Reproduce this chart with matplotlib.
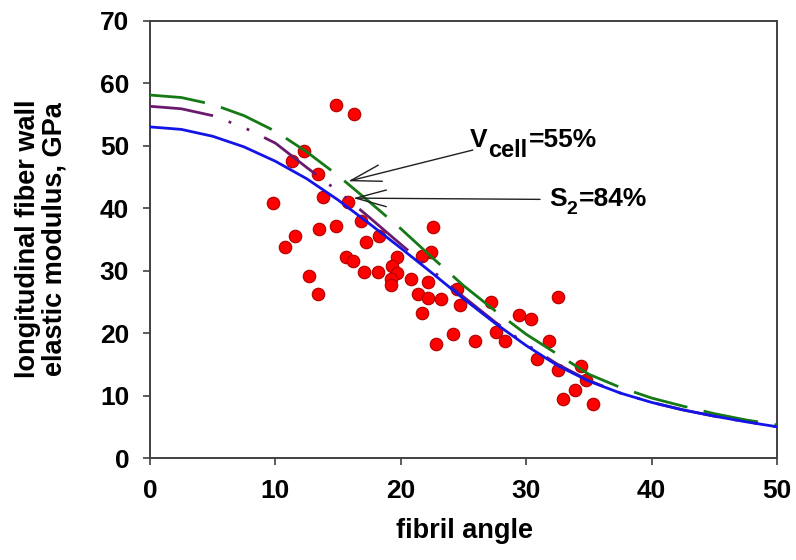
import matplotlib
matplotlib.use("Agg")
import matplotlib.pyplot as plt

plt.rcParams['font.family'] = ['Liberation Sans', 'DejaVu Sans']
plt.rcParams['lines.scale_dashes'] = False

# ---- data ----
angle_curve = [0, 2.5, 5, 7.5, 10, 12.5, 15, 17.5, 20, 22.5, 25, 27.5, 30,
               32.5, 35, 37.5, 40, 42.5, 45, 47.5, 50]
curve_solid = [53.0, 52.6, 51.5, 49.8, 47.5, 44.7, 41.3, 37.5, 33.6, 29.6, 25.5,
               21.6, 18.0, 14.8, 12.3, 10.4, 8.9, 7.7, 6.7, 5.8, 5.0]
curve_dashdot = [56.3, 55.9, 54.8, 52.9, 50.4, 46.5, 42.7, 38.5, 34.2, 30.0, 25.8,
                 21.8, 18.2, 15.0, 12.4, 10.4, 8.9, 7.7, 6.7, 5.8, 5.0]
curve_dashed = [58.1, 57.7, 56.6, 54.8, 52.3, 49.0, 45.2, 41.0, 36.7, 32.1, 27.6,
                23.6, 19.8, 16.6, 13.4, 11.3, 9.6, 8.3, 7.1, 6.1, 5.3]

meas_angle = [14.8, 16.3, 12.3, 11.3, 13.4, 13.8, 9.8, 15.8, 13.5, 14.8, 16.8,
              11.6, 10.8, 17.2, 18.3, 15.6, 16.2, 12.7, 17.1, 18.2, 13.4,
              19.7, 19.3, 19.7, 19.2, 19.2,
              22.6, 22.4, 21.7, 20.8, 22.2, 21.4, 22.2, 23.2, 24.5, 24.7, 21.7,
              27.2, 29.4, 30.4, 24.2, 25.9, 27.6, 28.3, 22.8, 30.9,
              32.5, 31.8, 32.5, 34.4, 34.8, 33.9, 32.9, 35.3]
meas_modulus = [56.5, 55.0, 49.2, 47.6, 45.4, 41.7, 40.8, 40.9, 36.6, 37.1, 38.0,
                35.6, 33.8, 34.6, 35.5, 32.2, 31.5, 29.2, 29.8, 29.8, 26.2,
                32.1, 30.8, 29.6, 28.6, 27.7,
                37.0, 33.0, 32.3, 28.6, 28.2, 26.2, 25.6, 25.5, 27.0, 24.5, 23.2,
                24.9, 22.9, 22.2, 19.9, 18.8, 20.1, 18.7, 18.2, 15.9,
                25.7, 18.8, 14.1, 14.8, 12.5, 10.9, 9.4, 8.6]

x_ticks = [0, 10, 20, 30, 40, 50]
y_ticks = [0, 10, 20, 30, 40, 50, 60, 70]

# ---- figure ----
fig = plt.figure(figsize=(7.96, 5.60), dpi=100)
ax = fig.add_axes([150/796, 1 - 458/560, 627/796, (458 - 20.7)/560])

ax.plot(meas_angle, meas_modulus, 'o', ms=9, mfc='#ff0000', mec='#b00000',
        mew=0.8, zorder=2, clip_on=False)

ax.plot(angle_curve, curve_dashed, color='#157a15', lw=2.0,
        ls=(0, (40, 12)), zorder=3)
ax.plot(angle_curve, curve_dashdot, color='#6a1a6e', lw=2.0,
        ls=(0, (46, 12, 2, 12, 2, 12)), zorder=3)
ax.plot(angle_curve, curve_solid, color='#1414e6', lw=2.0, zorder=4)

ax.set_xlim(0, 50)
ax.set_ylim(0, 70)
ax.set_xticks(x_ticks)
ax.set_yticks(y_ticks)
ax.tick_params(direction='out', length=5, width=1.2, color='#404040',
               labelsize=19, pad=10)
for lab in ax.get_xticklabels() + ax.get_yticklabels():
    lab.set_fontweight('bold')
for sp in ax.spines.values():
    sp.set_color('#404040')
    sp.set_linewidth(1.4)

fig.text(465/796, 1 - 538/560, 'fibril angle', ha='center', va='baseline',
         fontsize=19.5, fontweight='bold')
fig.text(41.5/796, 1 - 239/560, 'longitudinal fiber wall\nelastic modulus, GPa',
         rotation=90, ha='center', va='center', fontsize=19.5,
         fontweight='bold', linespacing=1.05, multialignment='center')

# annotations
arrow_kw = dict(arrowstyle='->,head_length=1.1,head_width=0.3', lw=1.0,
                color='#202020', mutation_scale=20, shrinkA=0, shrinkB=0)
ax.annotate('', xy=(15.8, 44.3), xytext=(25.75, 49.3), arrowprops=arrow_kw, zorder=5)
ax.annotate('', xy=(16.2, 41.6), xytext=(31.1, 41.4), arrowprops=arrow_kw, zorder=5)

t1 = ax.text(25.5, 49.8, 'V', fontsize=19, fontweight='bold', va='baseline', ha='left')
t2 = ax.annotate('cell', xy=(1, 0), xycoords=t1, xytext=(0.5, -7),
                 textcoords='offset points', fontsize=17, fontweight='bold', va='bottom')
ax.annotate('=55%', xy=(1, 0), xycoords=t2, xytext=(1, 7),
            textcoords='offset points', fontsize=19, fontweight='bold', va='bottom')

s1 = ax.text(31.8, 40.3, 'S', fontsize=19, fontweight='bold', va='baseline', ha='left')
s2 = ax.annotate('2', xy=(1, 0), xycoords=s1, xytext=(0, -5),
                 textcoords='offset points', fontsize=14, fontweight='bold', va='bottom')
ax.annotate('=84%', xy=(1, 0), xycoords=s2, xytext=(1, 5),
            textcoords='offset points', fontsize=19, fontweight='bold', va='bottom')

fig.savefig('out.png', dpi=100)
